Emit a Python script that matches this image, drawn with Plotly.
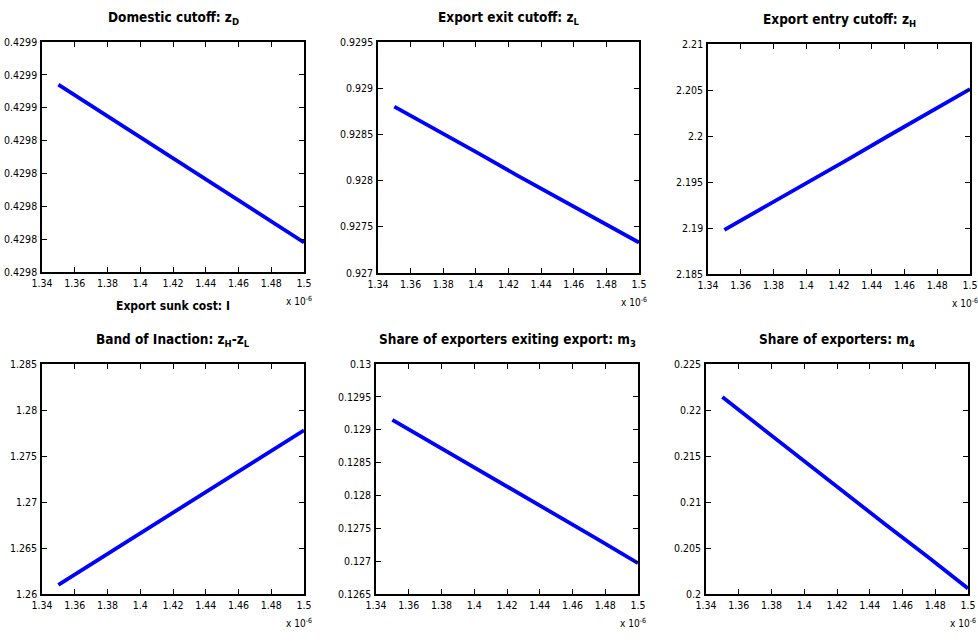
import plotly.graph_objects as go

# ---- data ----
x_sunk = [1.35, 1.375, 1.40, 1.425, 1.45, 1.475, 1.50]  # units of 1e-6
z_D = [0.429857, 0.429849, 0.429841, 0.429833, 0.429825, 0.429817, 0.429809]
z_L = [0.92880, 0.92856, 0.92831, 0.92806, 0.92782, 0.92757, 0.92733]
z_H = [2.1898, 2.1923, 2.1949, 2.1974, 2.2000, 2.2025, 2.2051]
band = [1.2610, 1.2638, 1.2666, 1.2694, 1.2722, 1.2750, 1.2778]
m_3 = [0.12915, 0.12879, 0.12843, 0.12806, 0.12770, 0.12734, 0.12697]
m_4 = [0.2214, 0.2179, 0.2145, 0.2110, 0.2075, 0.2041, 0.2006]

x_tickvals = [1.34, 1.36, 1.38, 1.40, 1.42, 1.44, 1.46, 1.48, 1.50]
x_ticktext = ["1.34", "1.36", "1.38", "1.4", "1.42", "1.44", "1.46", "1.48", "1.5"]

y1_vals = [0.42980, 0.42981, 0.42982, 0.42983, 0.42984, 0.42985, 0.42986, 0.42987]
y1_text = ["0.4298", "0.4298", "0.4298", "0.4298", "0.4298", "0.4299", "0.4299", "0.4299"]
y2_vals = [0.927, 0.9275, 0.928, 0.9285, 0.929, 0.9295]
y2_text = ["0.927", "0.9275", "0.928", "0.9285", "0.929", "0.9295"]
y3_vals = [2.185, 2.19, 2.195, 2.20, 2.205, 2.21]
y3_text = ["2.185", "2.19", "2.195", "2.2", "2.205", "2.21"]
y4_vals = [1.26, 1.265, 1.27, 1.275, 1.28, 1.285]
y4_text = ["1.26", "1.265", "1.27", "1.275", "1.28", "1.285"]
y5_vals = [0.1265, 0.127, 0.1275, 0.128, 0.1285, 0.129, 0.1295, 0.13]
y5_text = ["0.1265", "0.127", "0.1275", "0.128", "0.1285", "0.129", "0.1295", "0.13"]
y6_vals = [0.20, 0.205, 0.21, 0.215, 0.22, 0.225]
y6_text = ["0.2", "0.205", "0.21", "0.215", "0.22", "0.225"]

titles = [
    "Domestic cutoff: z<sub>D</sub>",
    "Export exit cutoff: z<sub>L</sub>",
    "Export entry cutoff: z<sub>H</sub>",
    "Band of Inaction: z<sub>H</sub>-z<sub>L</sub>",
    "Share of exporters exiting export: m<sub>3</sub>",
    "Share of exporters: m<sub>4</sub>",
]
series = [z_D, z_L, z_H, band, m_3, m_4]
yticks = [(y1_vals, y1_text), (y2_vals, y2_text), (y3_vals, y3_text),
          (y4_vals, y4_text), (y5_vals, y5_text), (y6_vals, y6_text)]

W, H = 978, 642
# panel pixel boxes: left, right, top, bottom
boxes = [
    (42, 304, 42, 272), (378, 639, 42, 273), (708, 970, 44, 274),
    (42, 304, 364, 594), (376, 638, 364, 594), (706, 968, 364, 594),
]

FONT = "Liberation Sans Narrow, DejaVu Sans Condensed, Arial Narrow, Liberation Sans, Arial, sans-serif"

fig = go.Figure()
annotations = []
layout = {}
for i, (ys, (l, r, t, b), (tv, tt), title) in enumerate(zip(series, boxes, yticks, titles)):
    n = "" if i == 0 else str(i + 1)
    fig.add_trace(go.Scatter(x=x_sunk, y=ys, mode="lines",
                             line=dict(color="#0000ff", width=3.8),
                             xaxis="x" + n, yaxis="y" + n, showlegend=False))
    axcommon = dict(showline=True, linecolor="black", linewidth=1.5, mirror="ticks",
                    ticks="inside", ticklen=5, tickwidth=1, tickcolor="black",
                    showgrid=False, zeroline=False, automargin=False,
                    tickfont=dict(family=FONT, size=10.5, color="black"))
    layout["xaxis" + n] = dict(axcommon, domain=[l / W, r / W], anchor="y" + n,
                               range=[1.34, 1.5], tickvals=x_tickvals, ticktext=x_ticktext,
                               ticklabelstandoff=1)
    layout["yaxis" + n] = dict(axcommon, domain=[1 - b / H, 1 - t / H], anchor="x" + n,
                               range=[tv[0], tv[-1]], tickvals=tv, ticktext=tt,
                               ticklabelstandoff=1)
    annotations.append(dict(text="<b>" + title + "</b>", x=(l + r) / 2 / W, y=1 - (t - 24) / H,
                            xref="paper", yref="paper", showarrow=False,
                            xanchor="center", yanchor="middle",
                            font=dict(family=FONT, size=13.5, color="black")))
    annotations.append(dict(text="x 10<sup>-6</sup>", x=(r - 5) / W, y=1 - (b + 29) / H,
                            xref="paper", yref="paper", showarrow=False,
                            xanchor="center", yanchor="middle",
                            font=dict(family=FONT, size=10, color="black")))

annotations.append(dict(text="<b>Export sunk cost: I</b>", x=(42 + 304) / 2 / W, y=1 - 306 / H,
                        xref="paper", yref="paper", showarrow=False,
                        xanchor="center", yanchor="middle",
                        font=dict(family=FONT, size=12, color="black")))

fig.update_layout(width=W, height=H, margin=dict(l=0, r=0, t=0, b=0, autoexpand=False),
                  paper_bgcolor="white", plot_bgcolor="white",
                  annotations=annotations, **layout)
fig.write_html("out.html", config={"displayModeBar": False},
               post_script="document.body.style.margin='0';document.body.style.overflow='hidden';")
